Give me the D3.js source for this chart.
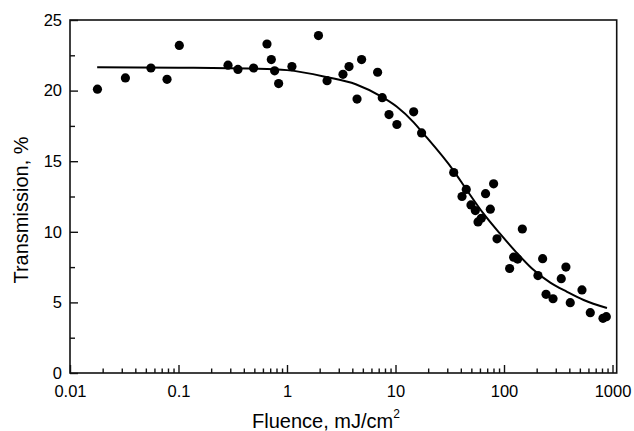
<!DOCTYPE html>
<html>
<head>
<meta charset="utf-8">
<script src="https://cdn.jsdelivr.net/npm/d3@7"></script>
<style>
  body { margin: 0; background: #fff; }
  text { font-family: "Liberation Sans", Arial, sans-serif; fill: #000; }
</style>
</head>
<body>
<div id="chart"></div>
<script>
// measured points
var fluence = [0.0179, 0.0324, 0.0557, 0.0784, 0.1017, 0.286, 0.353, 0.492, 0.654, 0.717,
    0.769, 0.837, 1.11, 1.95, 2.34, 3.28, 3.73, 4.42, 4.87, 6.84,
    7.55, 8.71, 10.3, 14.7, 17.4, 34.4, 41, 44.9, 49.6, 54.4,
    57.6, 61.8, 67.6, 74.8, 80.2, 86.2, 112.7, 122.7, 133.5, 147.5,
    205.6, 227, 244, 283, 337, 372, 408, 523, 624, 817, 877];
var transmission = [20.1, 20.9, 21.6, 20.8, 23.2, 21.8, 21.5, 21.6, 23.3, 22.2,
    21.4, 20.5, 21.7, 23.9, 20.7, 21.15, 21.7, 19.4, 22.2, 21.3,
    19.5, 18.3, 17.6, 18.5, 17.0, 14.2, 12.5, 13.0, 11.9, 11.5,
    10.7, 10.96, 12.7, 11.6, 13.4, 9.5, 7.4, 8.2, 8.07, 10.2,
    6.9, 8.1, 5.57, 5.26, 6.68, 7.5, 4.98, 5.88, 4.27, 3.87, 3.99];

// fitted line
var fitFluence = [0.0178, 0.1, 0.5, 1.0, 2.34, 4.3, 7.5, 10.3, 14.7, 17.4,
    34.5, 45, 64.5, 91, 128, 181, 267, 381, 542, 889];
var fitTransmission = [21.65, 21.62, 21.55, 21.45, 20.95, 20.45, 19.55, 18.85, 17.75, 17.1,
    14.3, 13.0, 11.3, 9.9, 8.6, 7.4, 6.4, 5.75, 5.17, 4.6];

var xMajor = [0.01, 0.1, 1, 10, 100, 1000];
var xLabels = ["0.01", "0.1", "1", "10", "100", "1000"];
var yMajor = [0, 5, 10, 15, 20, 25];
var yMinor = [2.5, 7.5, 12.5, 17.5, 22.5];

var width = 634, height = 431;
var plotLeft = 70, plotRight = 616.7, plotTop = 20, plotBottom = 373;

var svg = d3.select("#chart").append("svg")
    .attr("width", width)
    .attr("height", height);

var x = d3.scaleLog().domain([0.01, 1093]).range([plotLeft, plotRight]);
var y = d3.scaleLinear().domain([0, 25]).range([plotBottom, plotTop]);

// minor ticks on log axis: 2..9 in each decade
var xMinor = [];
for (var d = 0.01; d < 999; d *= 10) {
    for (var k = 2; k <= 9; k++) xMinor.push(d * k);
}

// frame
svg.append("rect")
    .attr("x", plotLeft).attr("y", plotTop)
    .attr("width", plotRight - plotLeft).attr("height", plotBottom - plotTop)
    .attr("fill", "none")
    .attr("stroke", "#111")
    .attr("stroke-width", 1.6);

// x axis
svg.append("g").attr("transform", `translate(0, ${plotBottom})`)
    .call(d3.axisBottom(x).tickValues(xMajor)
        .tickFormat((d, i) => xLabels[i])
        .tickSizeInner(-8).tickSizeOuter(0).tickPadding(12));
svg.append("g").attr("transform", `translate(0, ${plotBottom})`)
    .call(d3.axisBottom(x).tickValues(xMinor).tickFormat("")
        .tickSizeInner(-4.5).tickSizeOuter(0));

// y axis
svg.append("g").attr("transform", `translate(${plotLeft}, 0)`)
    .call(d3.axisLeft(y).tickValues(yMajor)
        .tickSizeInner(-8).tickSizeOuter(0).tickPadding(8));
svg.append("g").attr("transform", `translate(${plotLeft}, 0)`)
    .call(d3.axisLeft(y).tickValues(yMinor).tickFormat("")
        .tickSizeInner(-5).tickSizeOuter(0));

svg.selectAll(".domain").remove();
svg.selectAll(".tick line").attr("stroke", "#111").attr("stroke-width", 1.4);
svg.selectAll(".tick text")
    .style("font-family", "'Liberation Sans', Arial, sans-serif")
    .style("font-size", "16.5px")
    .attr("fill", "#000");

// axis titles
var xt = svg.append("text")
    .attr("x", 326).attr("y", 428)
    .attr("text-anchor", "middle")
    .style("font-size", "20px");
xt.append("tspan").text("Fluence, mJ/cm");
xt.append("tspan").attr("dy", -10).style("font-size", "12px").text("2");

svg.append("text")
    .attr("transform", "translate(28, 210) rotate(-90)")
    .attr("text-anchor", "middle")
    .style("font-size", "20px")
    .text("Transmission, %");

// fit line
var fit = fitFluence.map((f, i) => [f, fitTransmission[i]]);
svg.append("path")
    .datum(fit)
    .attr("fill", "none")
    .attr("stroke", "#000")
    .attr("stroke-width", 2)
    .attr("d", d3.line().x(d => x(d[0])).y(d => y(d[1])).curve(d3.curveMonotoneX));

// points
var pts = fluence.map((f, i) => [f, transmission[i]]);
svg.append("g").selectAll("circle")
    .data(pts)
    .join("circle")
    .attr("cx", d => x(d[0]))
    .attr("cy", d => y(d[1]))
    .attr("r", 4.6)
    .attr("fill", "#000");
</script>
</body>
</html>
